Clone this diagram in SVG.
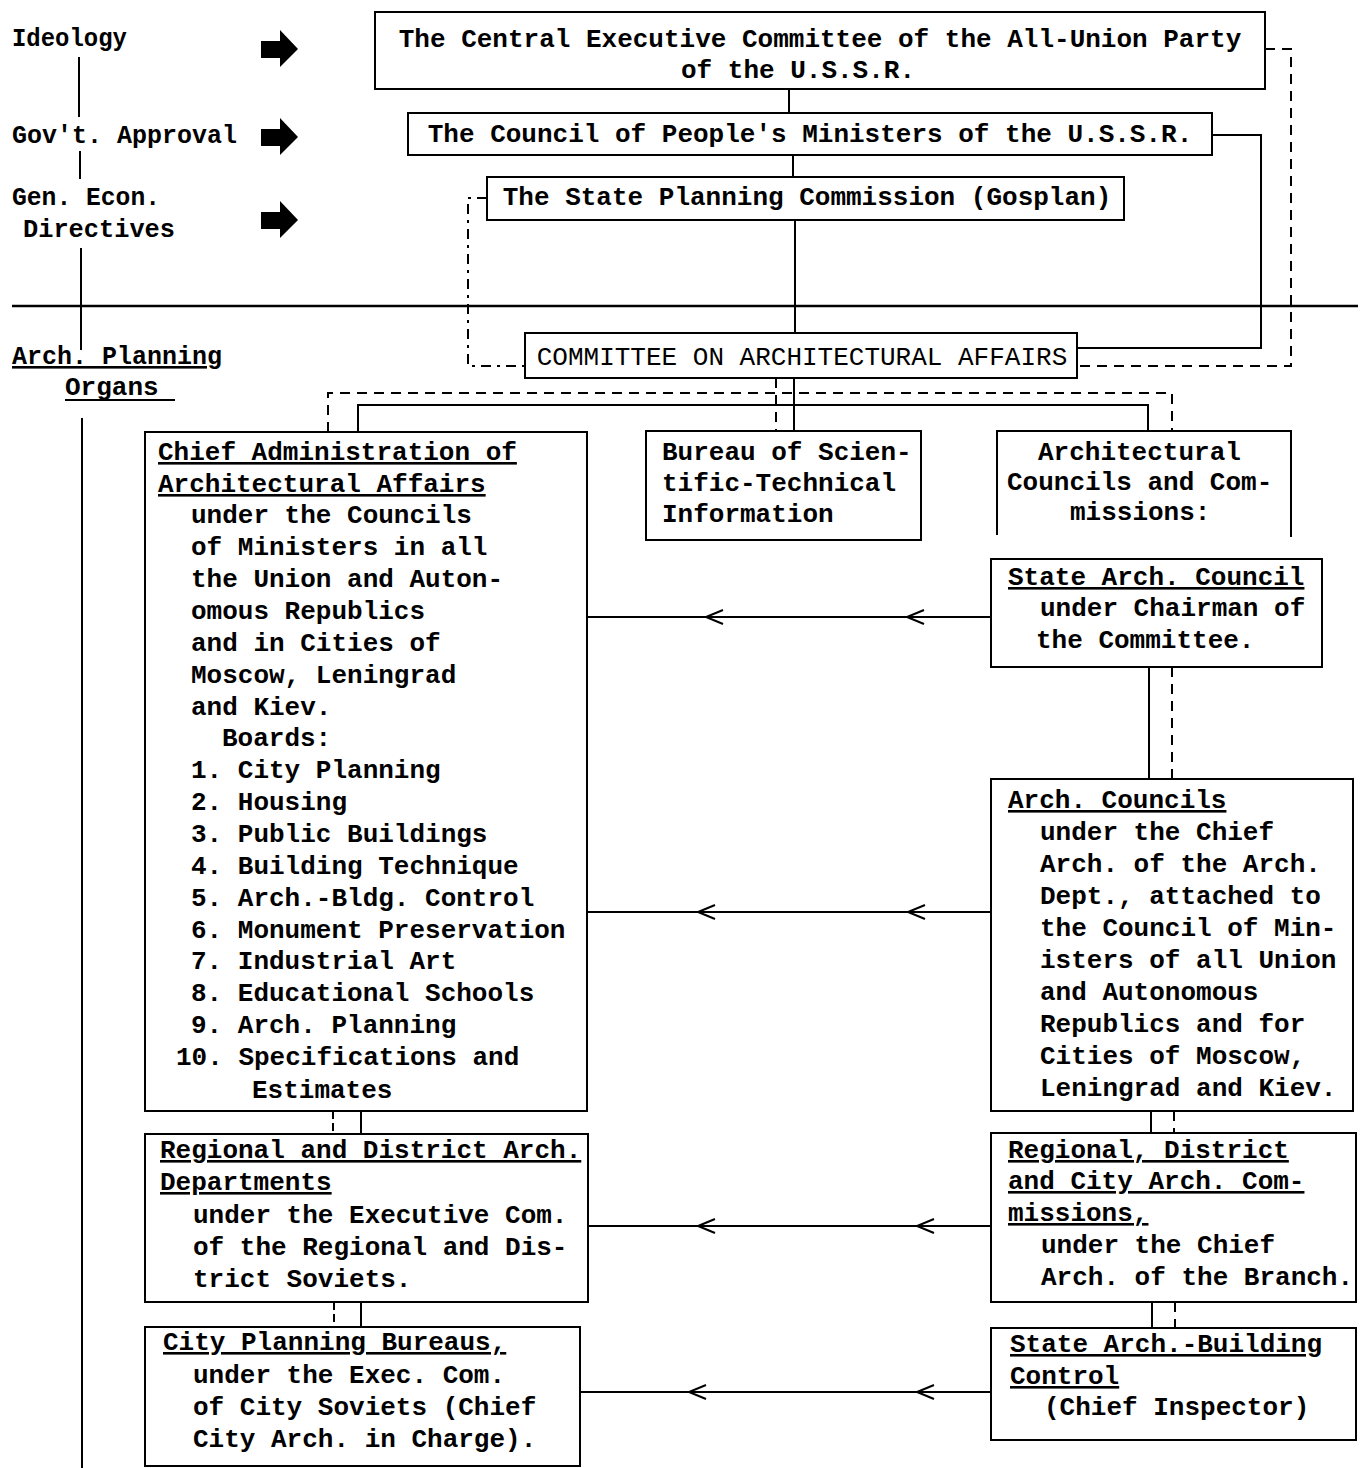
<svg xmlns="http://www.w3.org/2000/svg" width="1362" height="1468" viewBox="0 0 1362 1468">
<style>
.t{font-family:"Liberation Mono","Courier New",monospace;font-size:26px;font-weight:bold;fill:#000}
.lt{font-weight:normal}
.u{text-decoration:underline}
.box{fill:none;stroke:#000;stroke-width:2}
.ln{fill:none;stroke:#000;stroke-width:2}
.dash{stroke-dasharray:10 7}
.blk{fill:#000}
</style>
<defs>
<marker id="chev" markerUnits="userSpaceOnUse" markerWidth="24" markerHeight="20" viewBox="-20 -10 24 20" refX="0" refY="0" orient="auto" overflow="visible">
<path d="M-17,-7 L0,0 L-17,7" fill="none" stroke="#000" stroke-width="2"/>
</marker>
</defs>
<rect width="1362" height="1468" fill="#fff"/>

<g id="side-labels">
<text class="t" x="12" y="46" textLength="115" lengthAdjust="spacingAndGlyphs">Ideology</text>
<text class="t" x="12" y="143" textLength="225" lengthAdjust="spacingAndGlyphs">Gov't. Approval</text>
<text class="t" x="12" y="205" textLength="148" lengthAdjust="spacingAndGlyphs">Gen. Econ.</text>
<text class="t" x="23" y="237" textLength="152" lengthAdjust="spacingAndGlyphs">Directives</text>
<text class="t u" x="12" y="364" textLength="210" lengthAdjust="spacingAndGlyphs">Arch. Planning</text>
<text class="t" x="65" y="395">Organs</text>
<line class="ln" x1="65" y1="400" x2="175" y2="400"/>
<path class="blk" d="M261,41 H280 V30 L298,49 L280,67 V58 H261 Z"/>
<path class="blk" d="M261,129 H280 V118 L298,137 L280,155 V146 H261 Z"/>
<path class="blk" d="M261,212 H280 V201 L298,220 L280,238 V229 H261 Z"/>
</g>

<g id="n-cec">
<rect class="box" x="375" y="12" width="890" height="77"/>
<text class="t" x="820" y="47" text-anchor="middle">The Central Executive Committee of the All-Union Party</text>
<text class="t" x="798" y="78" text-anchor="middle">of the U.S.S.R.</text>
</g>
<g id="n-council">
<rect class="box" x="408" y="113" width="804" height="42"/>
<text class="t" x="810" y="142" text-anchor="middle">The Council of People's Ministers of the U.S.S.R.</text>
</g>
<g id="n-gosplan">
<rect class="box" x="487" y="177" width="637" height="43"/>
<text class="t" x="807" y="205" text-anchor="middle">The State Planning Commission (Gosplan)</text>
</g>
<g id="n-committee">
<rect class="box" x="525" y="333" width="552" height="45"/>
<text class="t lt" x="802" y="365" text-anchor="middle">COMMITTEE ON ARCHITECTURAL AFFAIRS</text>
</g>

<g id="n-chief">
<rect class="box" x="145" y="432" width="442" height="679"/>
<text class="t u" x="158" y="460">Chief Administration of</text>
<text class="t u" x="158" y="492">Architectural Affairs</text>
<text class="t" x="191" y="523">under the Councils</text>
<text class="t" x="191" y="555">of Ministers in all</text>
<text class="t" x="191" y="587">the Union and Auton-</text>
<text class="t" x="191" y="619">omous Republics</text>
<text class="t" x="191" y="651">and in Cities of</text>
<text class="t" x="191" y="683">Moscow, Leningrad</text>
<text class="t" x="191" y="715">and Kiev.</text>
<text class="t" x="222" y="746">Boards:</text>
<text class="t" x="191" y="778">1. City Planning</text>
<text class="t" x="191" y="810">2. Housing</text>
<text class="t" x="191" y="842">3. Public Buildings</text>
<text class="t" x="191" y="874">4. Building Technique</text>
<text class="t" x="191" y="906">5. Arch.-Bldg. Control</text>
<text class="t" x="191" y="938">6. Monument Preservation</text>
<text class="t" x="191" y="969">7. Industrial Art</text>
<text class="t" x="191" y="1001">8. Educational Schools</text>
<text class="t" x="191" y="1033">9. Arch. Planning</text>
<text class="t" x="176" y="1065">10. Specifications and</text>
<text class="t" x="252" y="1098">Estimates</text>
</g>

<g id="n-bureau">
<rect class="box" x="646" y="431" width="275" height="109"/>
<text class="t" x="662" y="460">Bureau of Scien-</text>
<text class="t" x="662" y="491">tific-Technical</text>
<text class="t" x="662" y="522">Information</text>
</g>

<g id="n-archcouncils-group">
<path class="box" d="M997,535 V431 H1291 V537"/>
<text class="t" x="1038" y="460">Architectural</text>
<text class="t" x="1007" y="490">Councils and Com-</text>
<text class="t" x="1070" y="520">missions:</text>
</g>

<g id="n-statecouncil">
<rect class="box" x="991" y="559" width="331" height="108"/>
<text class="t u" x="1008" y="585">State Arch. Council</text>
<text class="t" x="1040" y="616">under Chairman of</text>
<text class="t" x="1036" y="648">the Committee.</text>
</g>

<g id="n-archcouncils">
<rect class="box" x="991" y="779" width="362" height="332"/>
<text class="t u" x="1008" y="808">Arch. Councils</text>
<text class="t" x="1040" y="840">under the Chief</text>
<text class="t" x="1040" y="872">Arch. of the Arch.</text>
<text class="t" x="1040" y="904">Dept., attached to</text>
<text class="t" x="1040" y="936">the Council of Min-</text>
<text class="t" x="1040" y="968">isters of all Union</text>
<text class="t" x="1040" y="1000">and Autonomous</text>
<text class="t" x="1040" y="1032">Republics and for</text>
<text class="t" x="1040" y="1064">Cities of Moscow,</text>
<text class="t" x="1040" y="1096">Leningrad and Kiev.</text>
</g>

<g id="n-regional-dept">
<rect class="box" x="145" y="1134" width="443" height="168"/>
<text class="t u" x="160" y="1158">Regional and District Arch.</text>
<text class="t u" x="160" y="1190">Departments</text>
<text class="t" x="193" y="1223">under the Executive Com.</text>
<text class="t" x="193" y="1255">of the Regional and Dis-</text>
<text class="t" x="193" y="1287">trict Soviets.</text>
</g>

<g id="n-city-bureaus">
<rect class="box" x="145" y="1327" width="435" height="139"/>
<text class="t u" x="163" y="1350">City Planning Bureaus,</text>
<text class="t" x="193" y="1383">under the Exec. Com.</text>
<text class="t" x="193" y="1415">of City Soviets (Chief</text>
<text class="t" x="193" y="1447">City Arch. in Charge).</text>
</g>

<g id="n-regional-comm">
<rect class="box" x="991" y="1133" width="365" height="169"/>
<text class="t u" x="1008" y="1158">Regional, District</text>
<text class="t u" x="1008" y="1189">and City Arch. Com-</text>
<text class="t u" x="1008" y="1221">missions,</text>
<text class="t" x="1041" y="1253">under the Chief</text>
<text class="t" x="1041" y="1285">Arch. of the Branch.</text>
</g>

<g id="n-building-control">
<rect class="box" x="991" y="1328" width="365" height="112"/>
<text class="t u" x="1010" y="1352">State Arch.-Building</text>
<text class="t u" x="1010" y="1384">Control</text>
<text class="t" x="1044" y="1415">(Chief Inspector)</text>
</g>

<g id="connectors">
<line class="ln" x1="79" y1="57" x2="79" y2="117"/>
<line class="ln" x1="80" y1="151" x2="80" y2="179"/>
<line class="ln" x1="81" y1="248" x2="81" y2="350"/>
<line class="ln" x1="82" y1="418" x2="82" y2="1468"/>
<line x1="12" y1="306" x2="1358" y2="306" stroke="#000" stroke-width="2.5"/>
<line class="ln" x1="789" y1="89" x2="789" y2="113"/>
<line class="ln" x1="793" y1="155" x2="793" y2="177"/>
<line class="ln" x1="795" y1="220" x2="795" y2="333"/>
<path class="ln" d="M1212,135 H1261 V348 H1077"/>
<path class="ln dash" d="M1265,49 H1291 V366 H1077"/>
<path class="ln" stroke-dasharray="10 6 3 6" d="M487,198 H468 V366 H525"/>
<line class="ln" x1="794" y1="378" x2="794" y2="431"/>
<line class="ln dash" x1="776" y1="378" x2="776" y2="431"/>
<path class="ln" d="M358,432 V405 H1148 V431"/>
<path class="ln dash" d="M328,432 V393 H1172 V431"/>
<line class="ln" x1="1149" y1="667" x2="1149" y2="779"/>
<line class="ln dash" x1="1172" y1="667" x2="1172" y2="779"/>
<line class="ln" x1="1151" y1="1111" x2="1151" y2="1133"/>
<line class="ln dash" x1="1174" y1="1111" x2="1174" y2="1133"/>
<line class="ln" x1="1152" y1="1302" x2="1152" y2="1328"/>
<line class="ln dash" x1="1175" y1="1302" x2="1175" y2="1328"/>
<line class="ln" x1="361" y1="1111" x2="361" y2="1134"/>
<line class="ln" stroke-dasharray="8 4" x1="333" y1="1111" x2="333" y2="1134"/>
<line class="ln" x1="361" y1="1302" x2="361" y2="1327"/>
<line class="ln" stroke-dasharray="8 4" x1="334" y1="1302" x2="334" y2="1327"/>
<path class="ln" marker-mid="url(#chev)" d="M991,617 L907,617 L706,617 L587,617"/>
<path class="ln" marker-mid="url(#chev)" d="M991,912 L908,912 L698,912 L587,912"/>
<path class="ln" marker-mid="url(#chev)" d="M991,1226 L917,1226 L698,1226 L588,1226"/>
<path class="ln" marker-mid="url(#chev)" d="M991,1392 L917,1392 L689,1392 L580,1392"/>
</g>
</svg>
